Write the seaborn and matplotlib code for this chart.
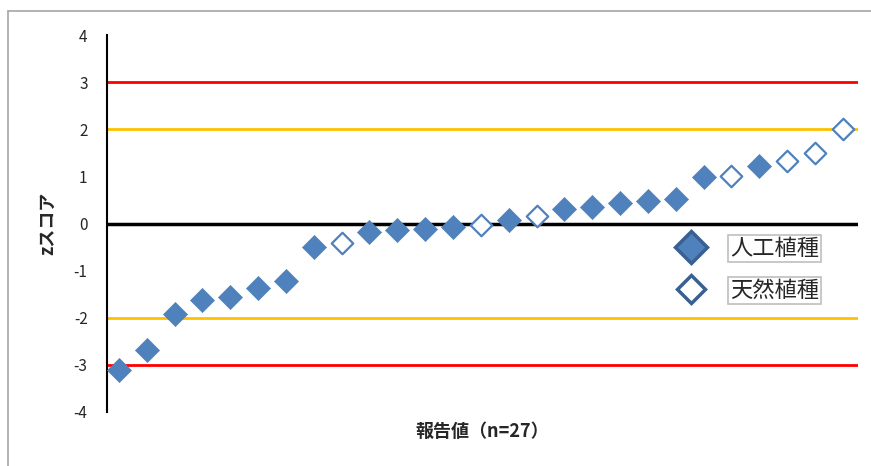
import matplotlib
matplotlib.use("Agg")
import matplotlib.pyplot as plt
import seaborn as sns
import pandas as pd
from matplotlib.lines import Line2D

# z-scores of the 27 reported values, sorted ascending
z_scores = [-3.10, -2.68, -1.93, -1.63, -1.55, -1.36, -1.23, -0.49, -0.42,
            -0.17, -0.13, -0.11, -0.08, -0.04, 0.08, 0.15, 0.30, 0.36,
            0.44, 0.47, 0.52, 0.98, 1.00, 1.23, 1.32, 1.49, 2.00]
# sample type for each value: 人工植種 (artificial) / 天然植種 (natural)
sample_type = ["人工植種"] * 8 + ["天然植種"] + ["人工植種"] * 4 + ["天然植種", "人工植種", "天然植種"] \
    + ["人工植種"] * 6 + ["天然植種", "人工植種", "天然植種", "天然植種", "天然植種"]
rank = list(range(1, len(z_scores) + 1))
y_ticks = [-4, -3, -2, -1, 0, 1, 2, 3, 4]
labels = ["人工植種", "天然植種"]

df = pd.DataFrame({"rank": rank, "z": z_scores, "type": sample_type})

sns.set_theme(style="white")
plt.rcParams["font.family"] = ["Noto Sans CJK JP", "DejaVu Sans"]

BLUE = "#4f81bd"
DARK = "#3a6090"

fig = plt.figure(figsize=(8.71, 4.66), dpi=100)
ax = fig.add_axes([107 / 871, 1 - 412 / 466, (858 - 107) / 871, (412 - 35) / 466])

# reference lines
ax.axhline(3, color="#ff0000", lw=2, zorder=1)
ax.axhline(-3, color="#ff0000", lw=2, zorder=1)
ax.axhline(2, color="#ffc000", lw=2, zorder=1)
ax.axhline(-2, color="#ffc000", lw=2, zorder=1)
ax.axhline(0, color="black", lw=2.5, zorder=1)

art = df[df["type"] == labels[0]]
nat = df[df["type"] == labels[1]]
sns.scatterplot(data=art, x="rank", y="z", marker="D", s=150, color=BLUE,
                edgecolor=BLUE, linewidth=0.5, ax=ax, zorder=3, legend=False)
sns.scatterplot(data=nat, x="rank", y="z", marker="D", s=120, facecolor="white",
                edgecolor=BLUE, linewidth=1.6, ax=ax, zorder=3, legend=False)

ax.set_xlim(0.57, 27.55)
ax.set_ylim(-4, 4)
ax.set_yticks(y_ticks)
ax.set_yticklabels([str(t) for t in y_ticks], fontsize=11)
ax.tick_params(axis="y", length=0, pad=14, colors="#262626")
ax.set_xticks([])
for side in ["top", "right", "bottom"]:
    ax.spines[side].set_visible(False)
ax.spines["left"].set_color("black")
ax.spines["left"].set_linewidth(1.5)

ax.set_ylabel("zスコア", fontsize=13, fontweight="bold", labelpad=12)
ax.set_xlabel("報告値（n=27）", fontsize=13, fontweight="bold", labelpad=7)

handles = [
    Line2D([], [], marker="D", linestyle="none", markersize=16,
           markerfacecolor=BLUE, markeredgecolor=DARK, markeredgewidth=2.5),
    Line2D([], [], marker="D", linestyle="none", markersize=14,
           markerfacecolor="white", markeredgecolor=DARK, markeredgewidth=2.5),
]
leg = fig.legend(handles, labels, loc="upper left",
                 bbox_to_anchor=(668 / 871, 1 - 226 / 466),
                 frameon=False, fontsize=16, handletextpad=1.2,
                 labelspacing=0.85, borderpad=0.0, handlelength=1.1)
for t in leg.get_texts():
    t.set_bbox(dict(facecolor="white", edgecolor="#bfbfbf", linewidth=1.2, pad=1.5))

# chart area border (top and left edges in view)
fig.add_artist(Line2D([8 / 871, 1.0], [1 - 11 / 466, 1 - 11 / 466],
                      transform=fig.transFigure, color="#a6a6a6", lw=1.2))
fig.add_artist(Line2D([8 / 871, 8 / 871], [0.0, 1 - 11 / 466],
                      transform=fig.transFigure, color="#a6a6a6", lw=1.2))

fig.savefig("out.png", dpi=100)
